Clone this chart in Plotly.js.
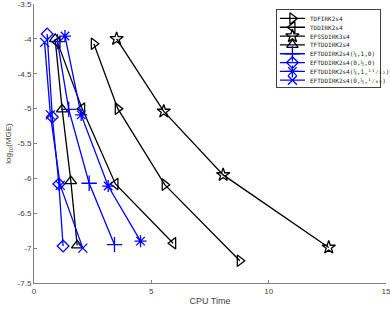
<!DOCTYPE html>
<html>
<head>
<meta charset="utf-8">
<script src="https://cdn.plot.ly/plotly-3.0.1.min.js"></script>
<style>html,body{margin:0;padding:0;background:#fff;}#chart{width:390px;height:309px;}</style>
</head>
<body>
<div id="chart"></div>
<script>
// ---- data ----
const names = [
  "TDFIRK2s4",
  "TDDIRK2s4",
  "EFSSDIRK3s4",
  "TFTDDIRK2s4",
  "EFTDDIRK2s4(¼,1,0)",
  "EFTDDIRK2s4(0,½,0)",
  "EFTDDIRK2s4(¼,1,¹¹⁄₃₂)",
  "EFTDDIRK2s4(0,½,¹⁄₄₀)"
];
const cpuTDFIRK   = [2.55, 3.57, 5.57, 8.77];
const errTDFIRK   = [-4.07, -5.00, -6.09, -7.18];
const cpuTDDIRK   = [1.00, 2.05, 3.47, 5.93];
const errTDDIRK   = [-4.05, -5.00, -6.08, -6.93];
const cpuEFSS     = [3.52, 5.53, 8.06, 12.56];
const errEFSS     = [-4.00, -5.04, -5.95, -6.99];
const cpuTFTD     = [0.90, 1.20, 1.57, 1.84];
const errTFTD     = [-4.00, -5.01, -6.04, -6.96];
const cpuEFT1     = [1.00, 1.48, 2.35, 3.43];
const errEFT1     = [-4.04, -5.01, -6.07, -6.95];
const cpuEFT2     = [0.56, 0.78, 1.06, 1.24];
const errEFT2     = [-3.93, -5.12, -6.08, -6.97];
const cpuEFT3     = [1.32, 2.01, 3.16, 4.54];
const errEFT3     = [-3.96, -5.09, -6.11, -6.90];
const cpuEFT4     = [0.45, 0.70, 1.12, 2.08];
const errEFT4     = [-4.05, -5.09, -6.10, -7.00];
const xTickVals = [0, 5, 10, 15];
const xTickText = ["0", "5", "10", "15"];
const yTickVals = [-7.5, -7, -6.5, -6, -5.5, -5, -4.5, -4, -3.5];
const yTickText = ["-7.5", "-7", "-6.5", "-6", "-5.5", "-5", "-4.5", "-4", "-3.5"];

// ---- styles ----
const seriesX = [cpuTDFIRK, cpuTDDIRK, cpuEFSS, cpuTFTD, cpuEFT1, cpuEFT2, cpuEFT3, cpuEFT4];
const seriesY = [errTDFIRK, errTDDIRK, errEFSS, errTFTD, errEFT1, errEFT2, errEFT3, errEFT4];
const colors = ["#000000","#000000","#000000","#000000","#0000ff","#0000ff","#0000ff","#0000ff"];
const symbols = ["triangle-right-open","triangle-left-open","star-open","triangle-up-open",
                 "cross-thin-open","diamond-open","asterisk-open","x-thin-open"];
const sizes = [10, 10, 10, 10, 11, 9, 10, 9];

const traces = [];
for (let i = 0; i < names.length; i++) {
  traces.push({
    x: seriesX[i], y: seriesY[i], type: "scatter", mode: "lines+markers",
    name: names[i], showlegend: false, cliponaxis: false,
    line: {color: colors[i], width: 1.3},
    marker: {symbol: symbols[i], size: sizes[i], color: colors[i], line: {color: colors[i], width: 1.3}}
  });
}
// custom legend samples (drawn in a small overlay subplot)
const annotations = [];
for (let i = 0; i < names.length; i++) {
  traces.push({
    x: [3, 15.5, 28], y: [i, i, i], xaxis: "x2", yaxis: "y2",
    type: "scatter", mode: "lines+markers", showlegend: false, hoverinfo: "skip",
    cliponaxis: false,
    line: {color: colors[i], width: 1.3},
    marker: {symbol: symbols[i], size: [0, sizes[i], 0], opacity: [0, 1, 0],
             color: colors[i], line: {color: colors[i], width: 1.3}}
  });
  annotations.push({
    xref: "x2", yref: "y2", x: 31, y: i, text: names[i], showarrow: false,
    xanchor: "left", yanchor: "middle",
    font: {family: "DejaVu Sans Mono, Liberation Mono, monospace", size: 6, color: "#222"}
  });
}

const axisFont = {family: "Liberation Sans, Arial, sans-serif", size: 8, color: "#404040"};
const layout = {
  width: 390, height: 309,
  margin: {l: 34, r: 4, t: 4, b: 26, pad: 0},
  paper_bgcolor: "#ffffff", plot_bgcolor: "#ffffff",
  showlegend: false,
  xaxis: {
    range: [0, 15], tickvals: xTickVals, ticktext: xTickText,
    ticks: "inside", ticklen: 3, tickcolor: "#808080", tickwidth: 1,
    showline: true, linecolor: "#808080", linewidth: 1,
    showgrid: false, zeroline: false, tickfont: axisFont, ticklabeloverflow: "allow",
    title: {text: "CPU Time", font: {family: "Liberation Sans, Arial, sans-serif", size: 9, color: "#404040"}, standoff: 3},
    automargin: false
  },
  yaxis: {
    range: [-7.5, -3.5], tickvals: yTickVals, ticktext: yTickText,
    ticks: "inside", ticklen: 3, tickcolor: "#808080", tickwidth: 1,
    showline: true, linecolor: "#808080", linewidth: 1,
    showgrid: false, zeroline: false, tickfont: axisFont, ticklabeloverflow: "allow",
    title: {text: "log<sub>10</sub>(MGE)", font: {family: "Liberation Sans, Arial, sans-serif", size: 8, color: "#404040"}, standoff: 4},
    automargin: false
  },
  xaxis2: {
    domain: [0.690, 0.983], range: [0, 103], anchor: "y2",
    showline: true, mirror: true, linecolor: "#404040", linewidth: 1,
    showticklabels: false, ticks: "", showgrid: false, zeroline: false, fixedrange: true
  },
  yaxis2: {
    domain: [0.7025, 0.978], range: [7.77, -0.94], anchor: "x2",
    showline: true, mirror: true, linecolor: "#404040", linewidth: 1,
    showticklabels: false, ticks: "", showgrid: false, zeroline: false, fixedrange: true
  },
  annotations: annotations
};

Plotly.newPlot("chart", traces, layout, {displayModeBar: false, staticPlot: true});
</script>
</body>
</html>
